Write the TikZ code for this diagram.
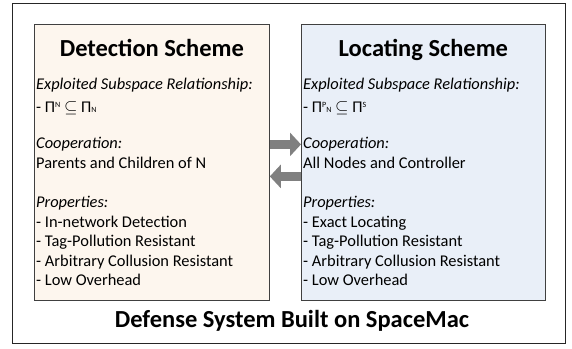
\documentclass[tikz,border=0pt]{standalone}
\usepackage{fontspec}
\setmainfont{Carlito}
\usetikzlibrary{arrows.meta,positioning}
\definecolor{detFill}{HTML}{FDF6EE}
\definecolor{locFill}{HTML}{E9EFF8}
\definecolor{edgeGray}{HTML}{404040}
\definecolor{arrGray}{HTML}{808080}
% small raised / lowered index letters next to Pi
\newcommand{\hiidx}[1]{\raisebox{4.5pt}{\fontsize{8}{8}\selectfont #1}}
\newcommand{\loidx}[1]{\raisebox{-0.5pt}{\fontsize{8}{8}\selectfont #1}}

\begin{document}
\begin{tikzpicture}[x=1pt, y=-1pt,
  scheme/.style={draw=edgeGray, line width=0.8pt, minimum height=276pt, inner sep=0pt, anchor=north west},
  heading/.style={font=\fontsize{24.5}{28}\selectfont\bfseries},
  body/.style={font=\fontsize{16.4}{19.5}\selectfont, align=left, anchor=north west, inner sep=0pt},
  swap/.style={arrGray, line width=8.5pt, -{Triangle[width=23pt,length=11pt]}}]
\useasboundingbox (0,0) rectangle (572,348);
% outer frame and the two scheme boxes
\node[draw=black!85, line width=0.8pt, minimum width=553pt, minimum height=340pt, inner sep=0pt, anchor=north west] (sys) at (12,3) {};
\node[scheme, fill=detFill, minimum width=235pt] (det) at (34,24) {};
\node[scheme, fill=locFill, minimum width=244pt] (loc) at (301,24) {};
% headings
\node[heading, below=12pt of det.north] (detTitle) {Detection Scheme};
\node[heading, below=12pt of loc.north] (locTitle) {Locating Scheme};
% box contents
\node[body] (detText) at (36,78) {\textit{Exploited Subspace Relationship:}\\[3pt]
- Π\hiidx{N} $\subseteq$ Π\loidx{N}\\[17pt]
\textit{Cooperation:}\\
Parents and Children of N\\[20pt]
\textit{Properties:}\\
- In-network Detection\\
- Tag-Pollution Resistant\\
- Arbitrary Collusion Resistant\\
- Low Overhead};
\node[body] (locText) at (303,78) {\textit{Exploited Subspace Relationship:}\\[3pt]
- Π\hiidx{P}\loidx{N} $\subseteq$ Π\hiidx{S}\\[17pt]
\textit{Cooperation:}\\
All Nodes and Controller\\[20pt]
\textit{Properties:}\\
- Exact Locating\\
- Tag-Pollution Resistant\\
- Arbitrary Collusion Resistant\\
- Low Overhead};
% arrows between the schemes
\draw[swap] ([yshift=18pt]det.east) -- ([yshift=18pt]loc.west);
\draw[swap] ([yshift=-14pt]loc.west) -- ([yshift=-14pt]det.east);
% bottom caption
\node[font=\fontsize{24.5}{28}\selectfont\bfseries] (sysTitle) at (292,321) {Defense System Built on SpaceMac};
\end{tikzpicture}
\end{document}
